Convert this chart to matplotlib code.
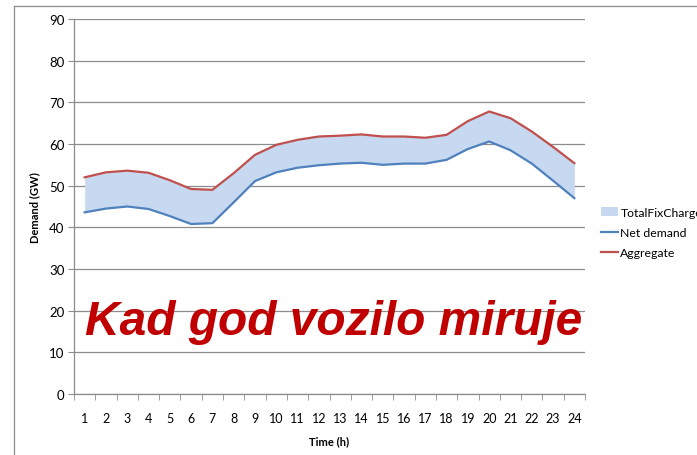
import matplotlib
matplotlib.use("Agg")
import matplotlib.pyplot as plt
from matplotlib.lines import Line2D
from matplotlib.patches import Patch
from matplotlib.ticker import FixedLocator

# data
hours = list(range(1, 25))
net_demand = [43.6, 44.5, 45.0, 44.4, 42.7, 40.8, 41.0, 46.0, 51.1, 53.2, 54.3, 54.9,
              55.3, 55.5, 55.0, 55.3, 55.3, 56.2, 58.8, 60.6, 58.5, 55.3, 51.2, 47.0]
aggregate = [52.0, 53.2, 53.6, 53.1, 51.3, 49.2, 49.0, 53.0, 57.4, 59.8, 61.0, 61.8,
             62.0, 62.3, 61.8, 61.8, 61.5, 62.2, 65.5, 67.8, 66.2, 63.0, 59.3, 55.4]
y_ticks = [0, 10, 20, 30, 40, 50, 60, 70, 80, 90]
legend_labels = ["TotalFixCharge", "Net demand", "Aggregate"]
overlay_text = "Kad god vozilo miruje"

plt.rcParams['font.family'] = ['Lato', 'DejaVu Sans']

BLUE = '#4f81bd'
RED = '#c0504d'
FILL = '#c6d9f1'
GRID = '#8c8c8c'

fig = plt.figure(figsize=(6.97, 4.56), dpi=100)
ax = fig.add_axes([74 / 697, 1 - 395 / 456, 511 / 697, 375 / 456])

ax.fill_between(hours, net_demand, aggregate, color=FILL, lw=0, zorder=2)
ax.plot(hours, net_demand, color=BLUE, lw=1.6, zorder=3)
ax.plot(hours, aggregate, color=RED, lw=1.6, zorder=3)

ax.set_xlim(0.5, 24.5)
ax.set_ylim(0, 90)
ax.set_yticks(y_ticks)
ax.yaxis.grid(True, color=GRID, lw=0.9)
ax.set_axisbelow(True)

ax.set_xticks(hours)
ax.set_xticklabels([str(h) for h in hours], fontsize=9)
ax.xaxis.set_minor_locator(FixedLocator([h + 0.5 for h in range(0, 25)]))
ax.tick_params(axis='x', which='major', length=0, pad=13)
ax.tick_params(axis='x', which='minor', length=4, color=GRID, direction='out')
ax.tick_params(axis='y', length=4, color=GRID, labelsize=9.5, pad=3)

for s in ['top', 'right']:
    ax.spines[s].set_visible(False)
for s in ['left', 'bottom']:
    ax.spines[s].set_color(GRID)
    ax.spines[s].set_linewidth(0.9)

ax.set_xlabel("Time (h)", fontsize=8, fontweight='bold', labelpad=8)
ax.set_ylabel("Demand (GW)", fontsize=8, fontweight='bold', labelpad=6)

ax.text(1, 14.5, overlay_text, fontsize=34.5, fontweight='bold', fontstyle='italic',
        family='Liberation Sans', color='#c00000', ha='left', va='baseline', zorder=5)

handles = [Patch(facecolor=FILL, edgecolor='none'),
           Line2D([], [], color=BLUE, lw=1.6),
           Line2D([], [], color=RED, lw=1.6)]
fig.legend(handles, legend_labels, loc='upper left',
           bbox_to_anchor=(596 / 697, 1 - 203 / 456), frameon=False,
           fontsize=8.8, handlelength=1.4, handletextpad=0.2, labelspacing=0.75,
           borderaxespad=0)

# outer chart frame
fig.add_artist(Line2D([14 / 697, 14 / 697], [0, 1 - 7 / 456], color=GRID, lw=0.9))
fig.add_artist(Line2D([14 / 697, 1], [1 - 7 / 456, 1 - 7 / 456], color=GRID, lw=0.9))

fig.savefig("out.png", dpi=100)
